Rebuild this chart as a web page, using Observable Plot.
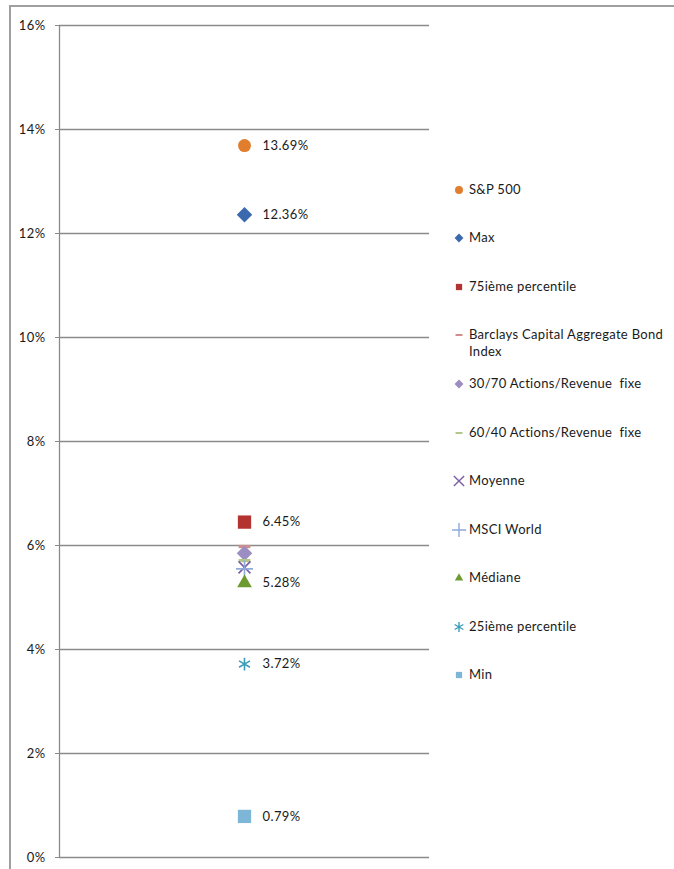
<!DOCTYPE html>
<html><head><meta charset="utf-8">
<script src="https://cdn.jsdelivr.net/npm/d3@7"></script>
<script src="https://cdn.jsdelivr.net/npm/@observablehq/plot@0.6"></script>
<style>
body{margin:0;background:#fff;font-family:Lato,"Open Sans",sans-serif;}
#wrap{position:relative;width:674px;height:869px;overflow:hidden;}
#frame{position:absolute;left:9px;top:5px;width:700px;height:900px;border-top:2px solid #a0a0a0;border-left:2px solid #a0a0a0;}
#chart{position:absolute;left:0;top:0;}
#legend{position:absolute;left:0;top:0;width:674px;height:869px;pointer-events:none;}
.row{position:absolute;left:452px;font-size:13px;letter-spacing:0.3px;color:#1a1a1a;line-height:17px;display:flex;align-items:flex-start;white-space:pre;}
.row svg{flex:none;margin-top:2px;margin-right:2px;}
</style></head>
<body><div id="wrap"><div id="frame"></div><div id="chart"></div><div id="legend"></div></div>
<script>
const categories = ["S&P 500","Max","75ième percentile","Barclays Capital Aggregate Bond Index","30/70 Actions/Revenue  fixe","60/40 Actions/Revenue  fixe","Moyenne","MSCI World","Médiane","25ième percentile","Min"];
const legendLines = [["S&P 500"],["Max"],["75ième percentile"],["Barclays Capital Aggregate Bond","Index"],["30/70 Actions/Revenue  fixe"],["60/40 Actions/Revenue  fixe"],["Moyenne"],["MSCI World"],["Médiane"],["25ième percentile"],["Min"]];
const values = [13.69, 12.36, 6.45, 5.98, 5.85, 5.71, 5.58, 5.55, 5.28, 3.72, 0.79];
const showLabel = [true, true, true, false, false, false, false, false, true, true, true];
const colors = ["#E07E2E","#3B69AE","#B33331","#D38C8C","#9C8DC2","#B3C78A","#7A5DA3","#8FA9D9","#6E9B2F","#3C9DBA","#7DB6D6"];
const symbolNames = ["circle","diamond2","square","dash","diamond2","dash","times","plus","triangle2","asterisk","square"];
const yTicks = [0,2,4,6,8,10,12,14,16];

const dash = {draw(ctx, size){const w=Math.sqrt(size)*1.1, h=w*0.28; ctx.rect(-w/2,-h/2,w,h);}};
const strokeSyms = new Set(["times","plus","asterisk"]);
function sym(n){return n==="dash"?dash:n;}

const data = categories.map((c,i)=>({name:c, value:values[i], color:colors[i], sym:symbolNames[i], label:showLabel[i]}));

const marks = [
  Plot.ruleY(yTicks, {y:d=>d, stroke:"#8a8a8a", strokeWidth:1.3}),
  Plot.ruleX([0], {stroke:"#8a8a8a", strokeWidth:1.3}),
  Plot.axisY({ticks:yTicks, tickFormat:d=>d+"%", tickSize:4, tickPadding:10, stroke:"#8a8a8a", fontSize:13, fill:"#1a1a1a", label:null})
];
const radius = {square:7.5, diamond2:7, circle:6.5, dash:6, triangle2:7, times:5.5, plus:5.5, asterisk:6};
data.forEach(d=>{
  const s = strokeSyms.has(d.sym);
  marks.push(Plot.dot([d], {x:()=>0.5, y:"value", symbol:sym(d.sym), r:radius[d.sym],
    fill: s?"none":d.color, stroke: s?d.color:"none", strokeWidth: s?1.6:0}));
});
marks.push(Plot.text(data.filter(d=>d.label), {x:()=>0.5, y:"value", text:d=>d.value.toFixed(2)+"%", dx:18, textAnchor:"start", fontSize:13, fill:"#1a1a1a"}));

const plot = Plot.plot({
  width:674, height:869,
  marginTop:25, marginBottom:12, marginLeft:59, marginRight:245,
  x:{domain:[0,1], axis:null},
  y:{domain:[0,16], axis:null},
  style:{fontFamily:'Lato,"Open Sans",sans-serif', background:"transparent", letterSpacing:"0.4px"},
  marks
});
document.getElementById("chart").appendChild(plot);

const legendTops = [190,238,287,335,384,433,481,530,578,627,675];
const leg = d3.select("#legend");
data.forEach((d,i)=>{
  const row = leg.append("div").attr("class","row").style("top",(legendTops[i]-9)+"px");
  const svg = row.append("svg").attr("width",15).attr("height",14);
  const s = strokeSyms.has(d.sym);
  const n = d.sym;
  const typ = n==="dash"?dash:({circle:d3.symbolCircle,diamond2:d3.symbolDiamond2,square:d3.symbolSquare2,times:d3.symbolTimes,plus:d3.symbolPlus,triangle2:d3.symbolTriangle2,asterisk:d3.symbolAsterisk})[n];
  const size = n==="dash"?40:(s?70:50);
  svg.append("path").attr("transform","translate(7,7)").attr("d",d3.symbol(typ,size)())
    .attr("fill",s?"none":d.color).attr("stroke",s?d.color:"none").attr("stroke-width",1.4);
  const t = row.append("div");
  legendLines[i].forEach(l=>t.append("div").text(l));
});
</script></body></html>
